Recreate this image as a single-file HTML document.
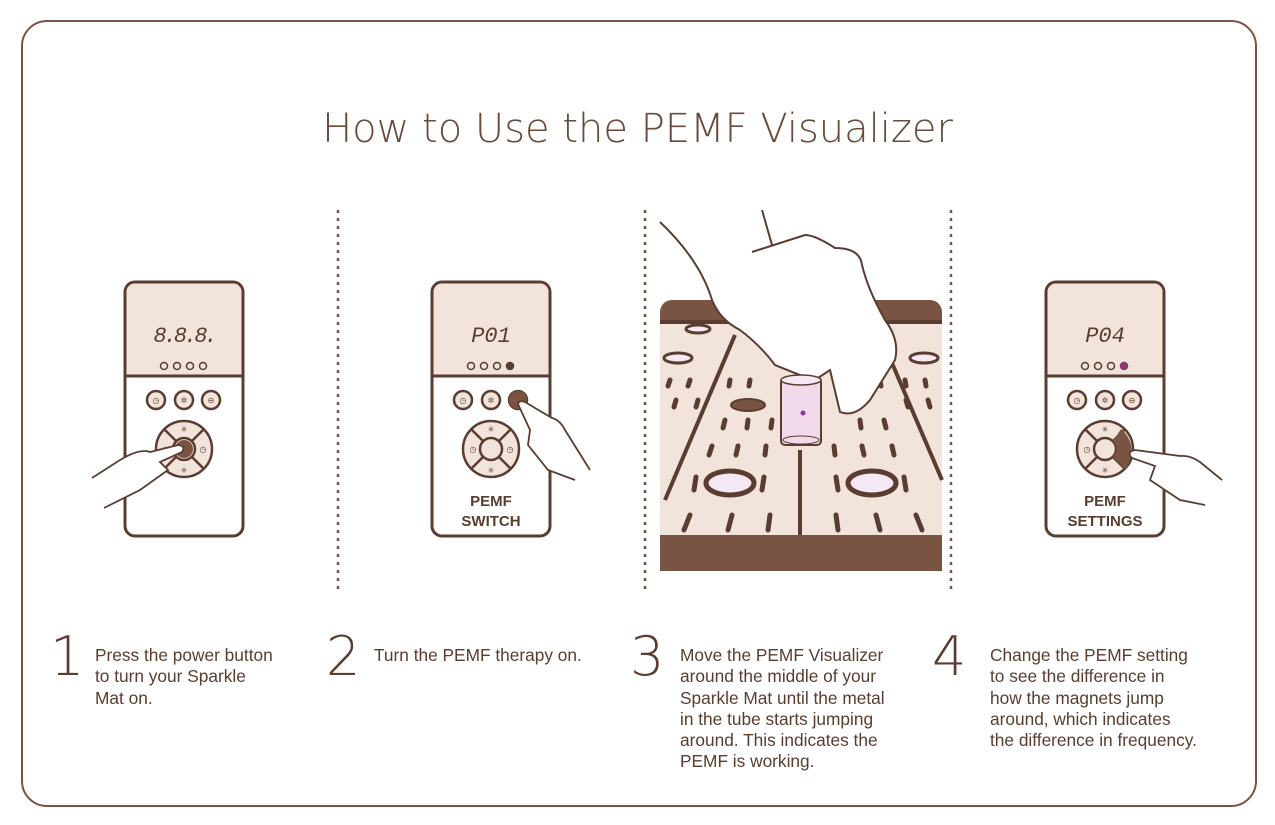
<!DOCTYPE html><html><head><style>
body{margin:0;background:#fff;font-family:"Liberation Sans",sans-serif;}
.t{position:absolute;font-size:17.3px;line-height:21.3px;color:#5a3d30;}
.n{position:absolute;font-size:54px;color:#5a3d30;line-height:54px;font-family:"DejaVu Sans","Liberation Sans",sans-serif;font-weight:200}
</style></head><body>
<div style="position:absolute;left:21px;top:20px;width:1232px;height:783px;border:2px solid #7a5442;border-radius:26px;"></div>
<div style="position:absolute;left:0;width:1275px;top:106px;text-align:center;font-size:40px;color:#6a4a3a;font-family:'DejaVu Sans',sans-serif;font-weight:200;">How to Use the PEMF Visualizer</div>
<svg width="1275" height="825" style="position:absolute;left:0;top:0">
<defs>
<g id="rem">
<rect x="0" y="0" width="118" height="254" rx="10" fill="#fff" stroke="#5a3d30" stroke-width="3"/>
<path d="M1.5 94 V10 a8.5 8.5 0 0 1 8.5 -8.5 H108 a8.5 8.5 0 0 1 8.5 8.5 V94Z" fill="#f2e4da"/>
<line x1="0" y1="94" x2="118" y2="94" stroke="#5a3d30" stroke-width="3"/>
<g fill="none" stroke="#5a3d30" stroke-width="1.5">
<circle cx="39" cy="84" r="3.5"/><circle cx="52" cy="84" r="3.5"/><circle cx="65" cy="84" r="3.5"/><circle cx="78" cy="84" r="3.5"/>
</g>
<g fill="#f2e4da" stroke="#5a3d30" stroke-width="2.5">
<circle cx="31" cy="118" r="9"/><circle cx="59" cy="118" r="9"/><circle cx="86" cy="118" r="9"/>
<circle cx="59" cy="167" r="28"/>
</g>
<g stroke="#5a3d30" stroke-width="2.5"><line x1="39" y1="147" x2="79" y2="187"/><line x1="79" y1="147" x2="39" y2="187"/></g>
<circle cx="59" cy="167" r="11" fill="#f2e4da" stroke="#5a3d30" stroke-width="2.5"/>
<g fill="#5a3d30" font-size="8" text-anchor="middle"><text x="59" y="150">✳</text><text x="59" y="191">✳</text><text x="31" y="121">◷</text><text x="59" y="121">✲</text><text x="86" y="121">⊖</text><text x="41" y="170">◷</text><text x="78" y="170">◷</text></g>
</g>
</defs>
<g transform="translate(125,282)"><use href="#rem"/><circle cx="59" cy="167" r="9" fill="#7a5442"/><text x="59" y="60" font-size="22" font-family="Liberation Mono" font-style="italic" text-anchor="middle" fill="#5a3d30" letter-spacing="-3">8.8.8.</text></g>
<g transform="translate(432,282)"><use href="#rem"/><circle cx="78" cy="84" r="4" fill="#5a3d30"/><circle cx="86" cy="118" r="9" fill="#7a5442"/><text x="59" y="60" font-size="22" font-family="Liberation Mono" font-style="italic" text-anchor="middle" fill="#5a3d30">P01</text>
<text x="59" y="224" font-size="15" font-weight="bold" text-anchor="middle" fill="#5a3d30">PEMF</text><text x="59" y="244" font-size="15" font-weight="bold" text-anchor="middle" fill="#5a3d30">SWITCH</text></g>
<g transform="translate(1046,282)"><use href="#rem"/><circle cx="78" cy="84" r="4" fill="#8a3a70"/><path d="M75 147 A28 28 0 0 1 79 187 L67 175 A11 11 0 0 0 67 159Z" fill="#7a5442"/><text x="59" y="60" font-size="22" font-family="Liberation Mono" font-style="italic" text-anchor="middle" fill="#5a3d30">P04</text>
<text x="59" y="224" font-size="15" font-weight="bold" text-anchor="middle" fill="#5a3d30">PEMF</text><text x="59" y="244" font-size="15" font-weight="bold" text-anchor="middle" fill="#5a3d30">SETTINGS</text></g>
<g fill="#fff" stroke="#5a3d30" stroke-width="1.8">
<path d="M92 478 L120 460 Q140 448 150 452 L178 445 Q186 446 182 452 L160 462 L168 470 L140 490 L104 508"/>
<path d="M590 470 L565 430 Q560 420 552 418 L530 405 Q520 398 518 404 L530 430 L528 445 L548 470 L575 480"/>
<path d="M1222 480 L1200 462 Q1190 455 1180 456 L1135 450 Q1126 452 1132 458 L1155 466 L1150 480 L1180 500 L1205 505"/>
</g>
<g stroke="#7a5442" stroke-width="2.5" stroke-dasharray="3 5"><line x1="338" y1="210" x2="338" y2="590"/><line x1="645" y1="210" x2="645" y2="590"/><line x1="951" y1="210" x2="951" y2="590"/></g>
<path d="M660 571 V312 a12 12 0 0 1 12 -12 H930 a12 12 0 0 1 12 12 V571Z" fill="#7a5442"/>
<path d="M660 320 H942 V535 H660Z" fill="#f2e4da"/>
<g stroke="#5a3d30" stroke-width="4"><line x1="735" y1="335" x2="665" y2="500"/><line x1="800" y1="450" x2="800" y2="535"/><line x1="880" y1="335" x2="942" y2="480"/></g>
<g fill="#5a3d30"><rect x="660" y="320" width="282" height="4"/></g>
<g stroke="#5a3d30" stroke-width="5" stroke-linecap="round">
<line x1="690" y1="515" x2="684" y2="530"/><line x1="732" y1="515" x2="728" y2="530"/><line x1="770" y1="515" x2="768" y2="530"/><line x1="836" y1="515" x2="838" y2="530"/><line x1="876" y1="515" x2="880" y2="530"/><line x1="916" y1="515" x2="922" y2="530"/>
<line x1="696" y1="477" x2="694" y2="490"/><line x1="764" y1="477" x2="762" y2="490"/><line x1="836" y1="477" x2="838" y2="490"/><line x1="904" y1="477" x2="906" y2="490"/>
<line x1="712" y1="446" x2="709" y2="455"/><line x1="738" y1="446" x2="736" y2="455"/><line x1="766" y1="446" x2="765" y2="455"/><line x1="834" y1="446" x2="835" y2="455"/><line x1="862" y1="446" x2="864" y2="455"/><line x1="892" y1="446" x2="894" y2="455"/>
<line x1="725" y1="420" x2="723" y2="428"/><line x1="748" y1="420" x2="747" y2="428"/><line x1="772" y1="420" x2="771" y2="428"/><line x1="860" y1="420" x2="861" y2="428"/><line x1="884" y1="420" x2="886" y2="428"/>
<line x1="730" y1="380" x2="729" y2="386"/><line x1="750" y1="380" x2="749" y2="386"/><line x1="880" y1="380" x2="881" y2="386"/><line x1="905" y1="380" x2="906" y2="386"/><line x1="925" y1="380" x2="926" y2="386"/>
<line x1="670" y1="380" x2="668" y2="386"/><line x1="690" y1="380" x2="688" y2="386"/><line x1="676" y1="400" x2="674" y2="407"/><line x1="698" y1="400" x2="696" y2="407"/><line x1="906" y1="400" x2="908" y2="407"/><line x1="928" y1="400" x2="930" y2="407"/>
</g>
<g stroke="#5a3d30" stroke-width="5" fill="#f4e8f2"><ellipse cx="730" cy="483" rx="24" ry="12"/><ellipse cx="872" cy="483" rx="24" ry="12"/></g>
<g stroke="#5a3d30" stroke-width="3" fill="#f4e8f2"><ellipse cx="678" cy="358" rx="14" ry="5"/><ellipse cx="698" cy="329" rx="12" ry="4"/><ellipse cx="924" cy="358" rx="14" ry="5"/></g>
<ellipse cx="748" cy="405" rx="17" ry="6" fill="#7a5442" stroke="#5a3d30" stroke-width="2"/>
<path d="M660 222 Q700 260 712 300 Q720 320 740 330 Q760 345 775 365 L800 375 L815 380 L830 370 L840 412 Q855 418 870 400 L895 360 Q900 340 885 320 Q868 290 862 265 Q860 248 835 248 Q815 235 805 235 L752 252" fill="#fff" stroke="#5a3d30" stroke-width="2"/>
<line x1="762" y1="210" x2="772" y2="245" stroke="#5a3d30" stroke-width="2"/>
<rect x="781" y="378" width="40" height="67" rx="4" fill="#efd9ea" stroke="#5a3d30" stroke-width="2"/>
<ellipse cx="801" cy="380" rx="20" ry="5" fill="#f5eaf3" stroke="#5a3d30" stroke-width="1.5"/>
<ellipse cx="801" cy="440" rx="18" ry="4" fill="none" stroke="#5a3d30" stroke-width="1"/>
<circle cx="803" cy="413" r="2.5" fill="#8a3a90"/>
</svg>
<div class="n" style="left:50px;top:630px">1</div>
<div class="n" style="left:326px;top:630px">2</div>
<div class="n" style="left:630px;top:630px">3</div>
<div class="n" style="left:932px;top:630px">4</div>
<div class="t" style="left:95px;top:645px;width:210px">Press the power button<br>to turn your Sparkle<br>Mat on.</div>
<div class="t" style="left:374px;top:645px;width:250px">Turn the PEMF therapy on.</div>
<div class="t" style="left:680px;top:645px;width:240px">Move the PEMF Visualizer<br>around the middle of your<br>Sparkle Mat until the metal<br>in the tube starts jumping<br>around. This indicates the<br>PEMF is working.</div>
<div class="t" style="left:990px;top:645px;width:250px">Change the PEMF setting<br>to see the difference in<br>how the magnets jump<br>around, which indicates<br>the difference in frequency.</div>
</body></html>
